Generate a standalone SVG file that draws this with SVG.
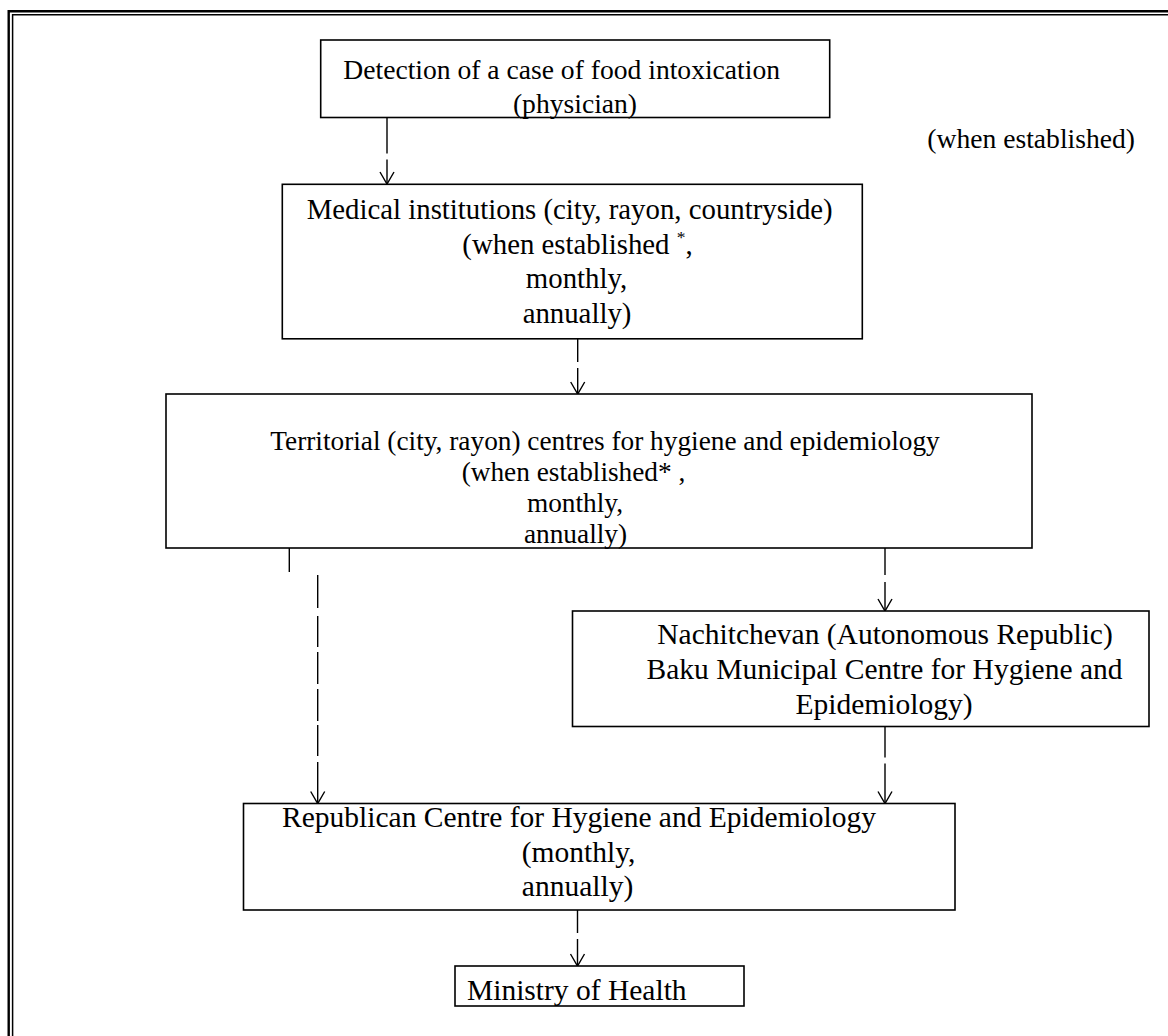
<svg xmlns="http://www.w3.org/2000/svg" width="1168" height="1036" viewBox="0 0 1168 1036">
<defs>
<style>
.box{fill:#fff;stroke:#000;stroke-width:1.6}
.t{font-family:"Liberation Serif","Times New Roman",serif;font-size:29.5px;fill:#000}
.s{font-size:27.3px}
.m{font-size:28.8px}
.d{font-size:27.6px}
.c{text-anchor:middle}
.con{fill:none;stroke:#000;stroke-width:1.4}
.fr1{fill:none;stroke:#000;stroke-width:2.4}
.fr2{fill:none;stroke:#000;stroke-width:1.5}
</style>
<marker id="ah" markerUnits="userSpaceOnUse" orient="auto" refX="0" refY="0" markerWidth="20" markerHeight="20" overflow="visible">
<path d="M-12,-7 L0,0 L-12,7" fill="none" stroke="#000" stroke-width="1.4" stroke-dasharray="none"/>
</marker>
</defs>
<rect width="1168" height="1036" fill="#fff"/>
<g id="frame">
<path class="fr1" d="M8.7,1036 V11.3 H1168"/>
<path class="fr2" d="M12.6,1036 V14.8 H1168"/>
</g>
<g id="connectors">
<line class="con" x1="387" y1="117.5" x2="387" y2="184" stroke-dasharray="36 6 60" marker-end="url(#ah)"/>
<line class="con" x1="577.7" y1="330" x2="577.7" y2="394" stroke-dasharray="32 6 60" marker-end="url(#ah)"/>
<line class="con" x1="289.3" y1="539" x2="289.3" y2="572"/>
<line class="con" x1="317.7" y1="575" x2="317.7" y2="803.5" stroke-dasharray="33 8 31 5 32 5 32 4 31 6 60" marker-end="url(#ah)"/>
<line class="con" x1="885" y1="538" x2="885" y2="611" stroke-dasharray="37 7 60" marker-end="url(#ah)"/>
<line class="con" x1="885" y1="726.5" x2="885" y2="803.5" stroke-dasharray="31 6 60" marker-end="url(#ah)"/>
<line class="con" x1="577.5" y1="900" x2="577.5" y2="966" stroke-dasharray="33 6 60" marker-end="url(#ah)"/>
</g>
<g id="detection">
<rect class="box" x="320.7" y="40" width="509" height="77.5"/>
<text class="t d" x="343.3" y="78.5">Detection of a case of food intoxication</text>
<text class="t d c" x="575" y="113">(physician)</text>
</g>
<g id="when-label">
<text class="t d" x="1135" y="148" text-anchor="end">(when established)</text>
</g>
<g id="medical">
<rect class="box" x="282.3" y="184.3" width="580" height="154.5"/>
<text class="t m" x="306.7" y="219.3">Medical institutions (city, rayon, countryside)</text>
<text class="t m c" x="577.5" y="253.5">(when established <tspan font-size="17.5" dy="-11">*</tspan><tspan dy="11">,</tspan></text>
<text class="t m c" x="576.5" y="288">monthly,</text>
<text class="t m c" x="577" y="322.5">annually)</text>
</g>
<g id="territorial">
<rect class="box" x="166" y="394" width="866" height="154"/>
<text class="t s c" x="605" y="449.5">Territorial (city, rayon) centres for hygiene and epidemiology</text>
<text class="t s c" x="573.5" y="481">(when established* ,</text>
<text class="t s c" x="575" y="512">monthly,</text>
<text class="t s c" x="575.5" y="542.5">annually)</text>
</g>
<g id="nachitchevan">
<rect class="box" x="572.5" y="611" width="576.5" height="115.5"/>
<text class="t c" x="885" y="643.5">Nachitchevan (Autonomous Republic)</text>
<text class="t c" x="884.5" y="679">Baku Municipal Centre for Hygiene and</text>
<text class="t c" x="884" y="713.5">Epidemiology)</text>
</g>
<g id="republican">
<rect class="box" x="243.5" y="803.5" width="711.5" height="106.5"/>
<text class="t c" x="579" y="826.5">Republican Centre for Hygiene and Epidemiology</text>
<text class="t c" x="578.6" y="861.5">(monthly,</text>
<text class="t c" x="577.5" y="895.5">annually)</text>
</g>
<g id="ministry">
<rect class="box" x="455" y="966" width="289" height="40"/>
<text class="t" x="467" y="1000">Ministry of Health</text>
</g>
</svg>
